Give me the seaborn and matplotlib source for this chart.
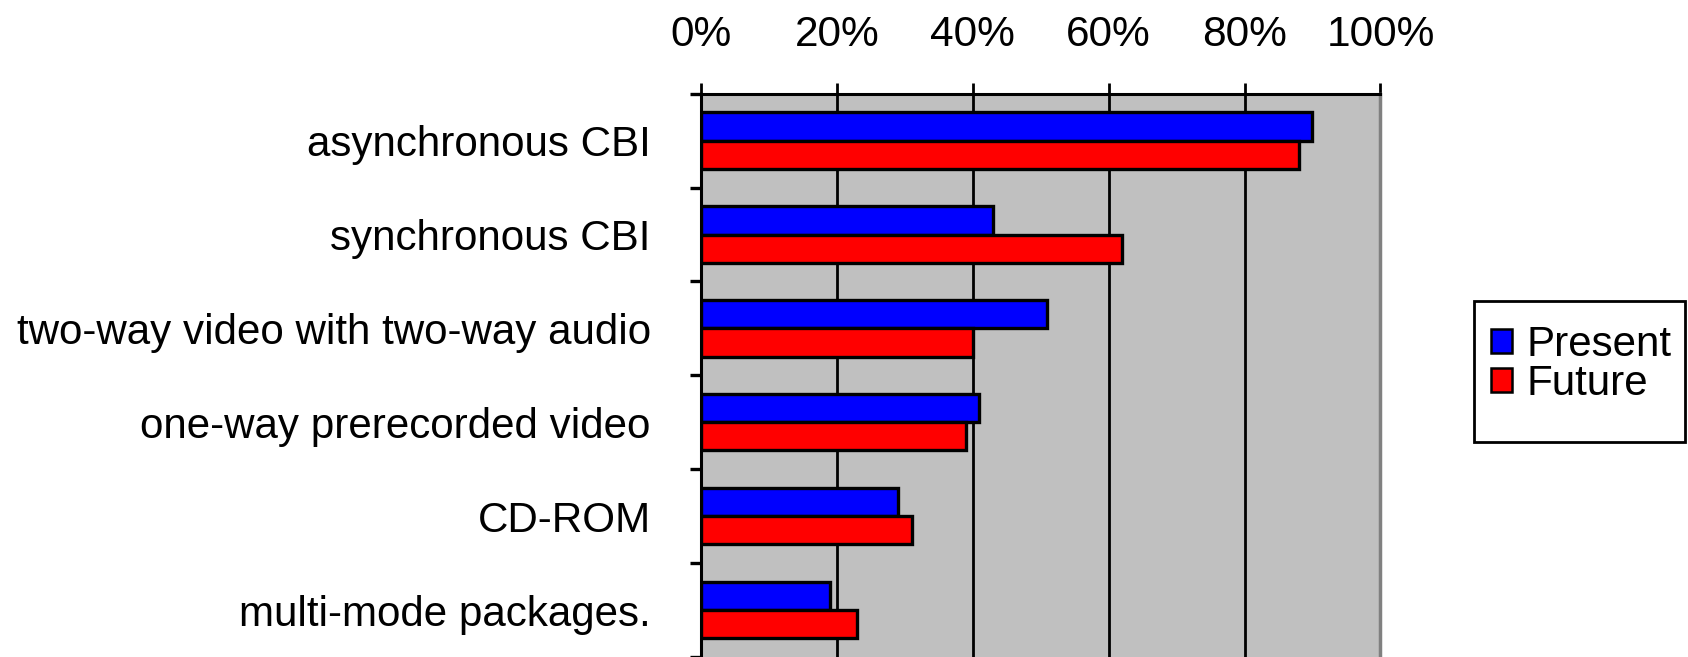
import matplotlib
matplotlib.use("Agg")
import matplotlib.pyplot as plt
import seaborn as sns
import pandas as pd
import numpy as np
from matplotlib.ticker import PercentFormatter
from matplotlib.patches import Patch, Rectangle

categories = ["asynchronous CBI", "synchronous CBI", "two-way video with two-way audio",
              "one-way prerecorded video", "CD-ROM", "multi-mode packages."]
present = [0.90, 0.43, 0.51, 0.41, 0.29, 0.19]
future = [0.88, 0.62, 0.40, 0.39, 0.31, 0.23]
series_names = ["Present", "Future"]
series_colors = ["#0000FF", "#FF0000"]
x_ticks = [0.0, 0.2, 0.4, 0.6, 0.8, 1.0]

df = pd.DataFrame({
    "category": categories * 2,
    "value": present + future,
    "series": [series_names[0]] * len(categories) + [series_names[1]] * len(categories),
})

sns.set_style("white")
plt.rcParams["font.family"] = ["Liberation Sans", "DejaVu Sans"]
plt.rcParams["text.color"] = "black"

fig = plt.figure(figsize=(16.88, 6.57), dpi=100)
ax = fig.add_axes([0.4152, 0.0, 0.8178 - 0.4152, 0.8574])

sns.barplot(data=df, x="value", y="category", hue="series", orient="h",
            palette=series_colors, saturation=1, edgecolor="black", linewidth=2.4,
            width=0.6, ax=ax, legend=False)

ax.set_facecolor("#C0C0C0")
ax.set_xlim(0, 1)
ax.set_ylim(5.5, -0.5)
ax.set_xlabel("")
ax.set_ylabel("")

ax.xaxis.tick_top()
ax.set_xticks(x_ticks)
ax.xaxis.set_major_formatter(PercentFormatter(1.0, decimals=0))
ax.tick_params(axis="x", which="major", direction="out", length=8, width=2,
               labelsize=30.5, pad=19.5, colors="black", labelcolor="black",
               top=True, bottom=False)

ax.set_yticks(range(len(categories)))
ax.set_yticklabels(categories)
ax.tick_params(axis="y", which="major", length=0, labelsize=30.3, pad=36,
               labelcolor="black")
ax.set_yticks(np.arange(-0.5, len(categories), 1.0), minor=True)
ax.tick_params(axis="y", which="minor", direction="out", length=8, width=2.4,
               left=True, colors="black")

ax.grid(axis="x", color="black", linewidth=2.0)
ax.set_axisbelow(True)

for side in ["top", "left"]:
    ax.spines[side].set_color("black")
    ax.spines[side].set_linewidth(2.2)
ax.spines["right"].set_color("#808080")
ax.spines["right"].set_linewidth(2.5)
ax.spines["bottom"].set_visible(False)

# legend frame
fig.add_artist(Rectangle((0.8732, 0.3272), 0.1250, 0.2146, transform=fig.transFigure,
                         facecolor="white", edgecolor="black", linewidth=2, zorder=2))

handles = [Patch(facecolor=c, edgecolor="black", linewidth=1.8) for c in series_colors]
leg = fig.legend(handles, series_names, loc="center left",
                 bbox_to_anchor=(0.8833, 0.4449), fontsize=30.3, frameon=False,
                 handlelength=0.5, handleheight=0.5, handletextpad=0.35,
                 labelspacing=-0.03, borderpad=0, borderaxespad=0)
leg.set_zorder(3)
for t in leg.get_texts():
    t.set_color("black")

fig.savefig("out.png", dpi=100)
